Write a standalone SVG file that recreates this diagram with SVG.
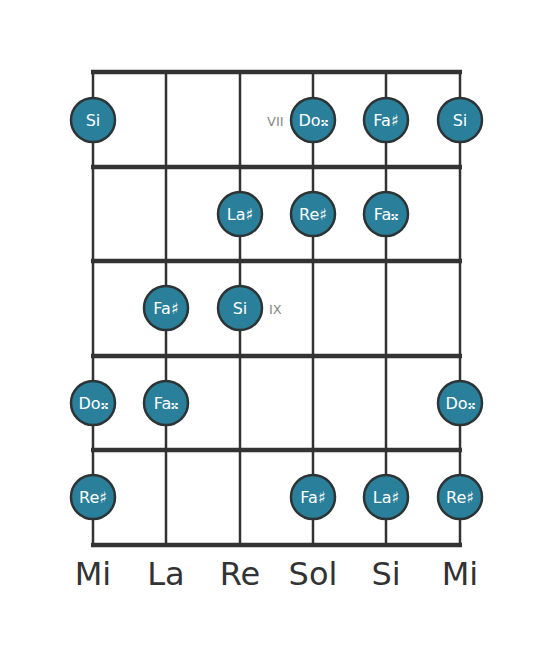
<svg xmlns="http://www.w3.org/2000/svg" width="553" height="656" viewBox="0 0 553 656">
<style>
.fret{stroke:#333;stroke-width:4.5}
.str{stroke:#333;stroke-width:2.5}
.dot circle{fill:#2a7f9b;stroke:#2d3436;stroke-width:2.5}
.dot text{fill:#fff;font-family:"DejaVu Sans",sans-serif;font-size:16px;text-anchor:middle;dominant-baseline:central}
.pos{fill:#888;font-family:"DejaVu Sans",sans-serif;font-size:13px;dominant-baseline:central}
.name{fill:#333;font-family:"DejaVu Sans",sans-serif;font-size:32px;text-anchor:middle}
</style>
<rect width="553" height="656" fill="#fff"/>
<g id="connectors">
<line class="str" x1="93" y1="72" x2="93" y2="545"/>
<line class="str" x1="166" y1="72" x2="166" y2="545"/>
<line class="str" x1="240" y1="72" x2="240" y2="545"/>
<line class="str" x1="313" y1="72" x2="313" y2="545"/>
<line class="str" x1="386" y1="72" x2="386" y2="545"/>
<line class="str" x1="460" y1="72" x2="460" y2="545"/>
<line class="fret" x1="91" y1="72" x2="462" y2="72"/>
<line class="fret" x1="91" y1="167" x2="462" y2="167"/>
<line class="fret" x1="91" y1="261" x2="462" y2="261"/>
<line class="fret" x1="91" y1="356" x2="462" y2="356"/>
<line class="fret" x1="91" y1="450" x2="462" y2="450"/>
<line class="fret" x1="91" y1="545" x2="462" y2="545"/>
</g>
<text class="pos" x="267" y="121">VII</text>
<text class="pos" x="269" y="309">IX</text>
<g id="n1" class="dot"><circle cx="93" cy="120" r="22"/><text x="93" y="120">Si</text></g>
<g id="n2" class="dot"><circle cx="313" cy="120" r="22"/><text x="313" y="120">Do𝄪</text></g>
<g id="n3" class="dot"><circle cx="386" cy="120" r="22"/><text x="386" y="120">Fa♯</text></g>
<g id="n4" class="dot"><circle cx="460" cy="120" r="22"/><text x="460" y="120">Si</text></g>
<g id="n5" class="dot"><circle cx="240" cy="214" r="22"/><text x="240" y="214">La♯</text></g>
<g id="n6" class="dot"><circle cx="313" cy="214" r="22"/><text x="313" y="214">Re♯</text></g>
<g id="n7" class="dot"><circle cx="386" cy="214" r="22"/><text x="386" y="214">Fa𝄪</text></g>
<g id="n8" class="dot"><circle cx="166" cy="308" r="22"/><text x="166" y="308">Fa♯</text></g>
<g id="n9" class="dot"><circle cx="240" cy="308" r="22"/><text x="240" y="308">Si</text></g>
<g id="n10" class="dot"><circle cx="93" cy="403" r="22"/><text x="93" y="403">Do𝄪</text></g>
<g id="n11" class="dot"><circle cx="166" cy="403" r="22"/><text x="166" y="403">Fa𝄪</text></g>
<g id="n12" class="dot"><circle cx="460" cy="403" r="22"/><text x="460" y="403">Do𝄪</text></g>
<g id="n13" class="dot"><circle cx="93" cy="497" r="22"/><text x="93" y="497">Re♯</text></g>
<g id="n14" class="dot"><circle cx="313" cy="497" r="22"/><text x="313" y="497">Fa♯</text></g>
<g id="n15" class="dot"><circle cx="386" cy="497" r="22"/><text x="386" y="497">La♯</text></g>
<g id="n16" class="dot"><circle cx="460" cy="497" r="22"/><text x="460" y="497">Re♯</text></g>
<g id="names">
<text class="name" x="93" y="585">Mi</text>
<text class="name" x="166" y="585">La</text>
<text class="name" x="240" y="585">Re</text>
<text class="name" x="313" y="585">Sol</text>
<text class="name" x="386" y="585">Si</text>
<text class="name" x="460" y="585">Mi</text>
</g>
</svg>
